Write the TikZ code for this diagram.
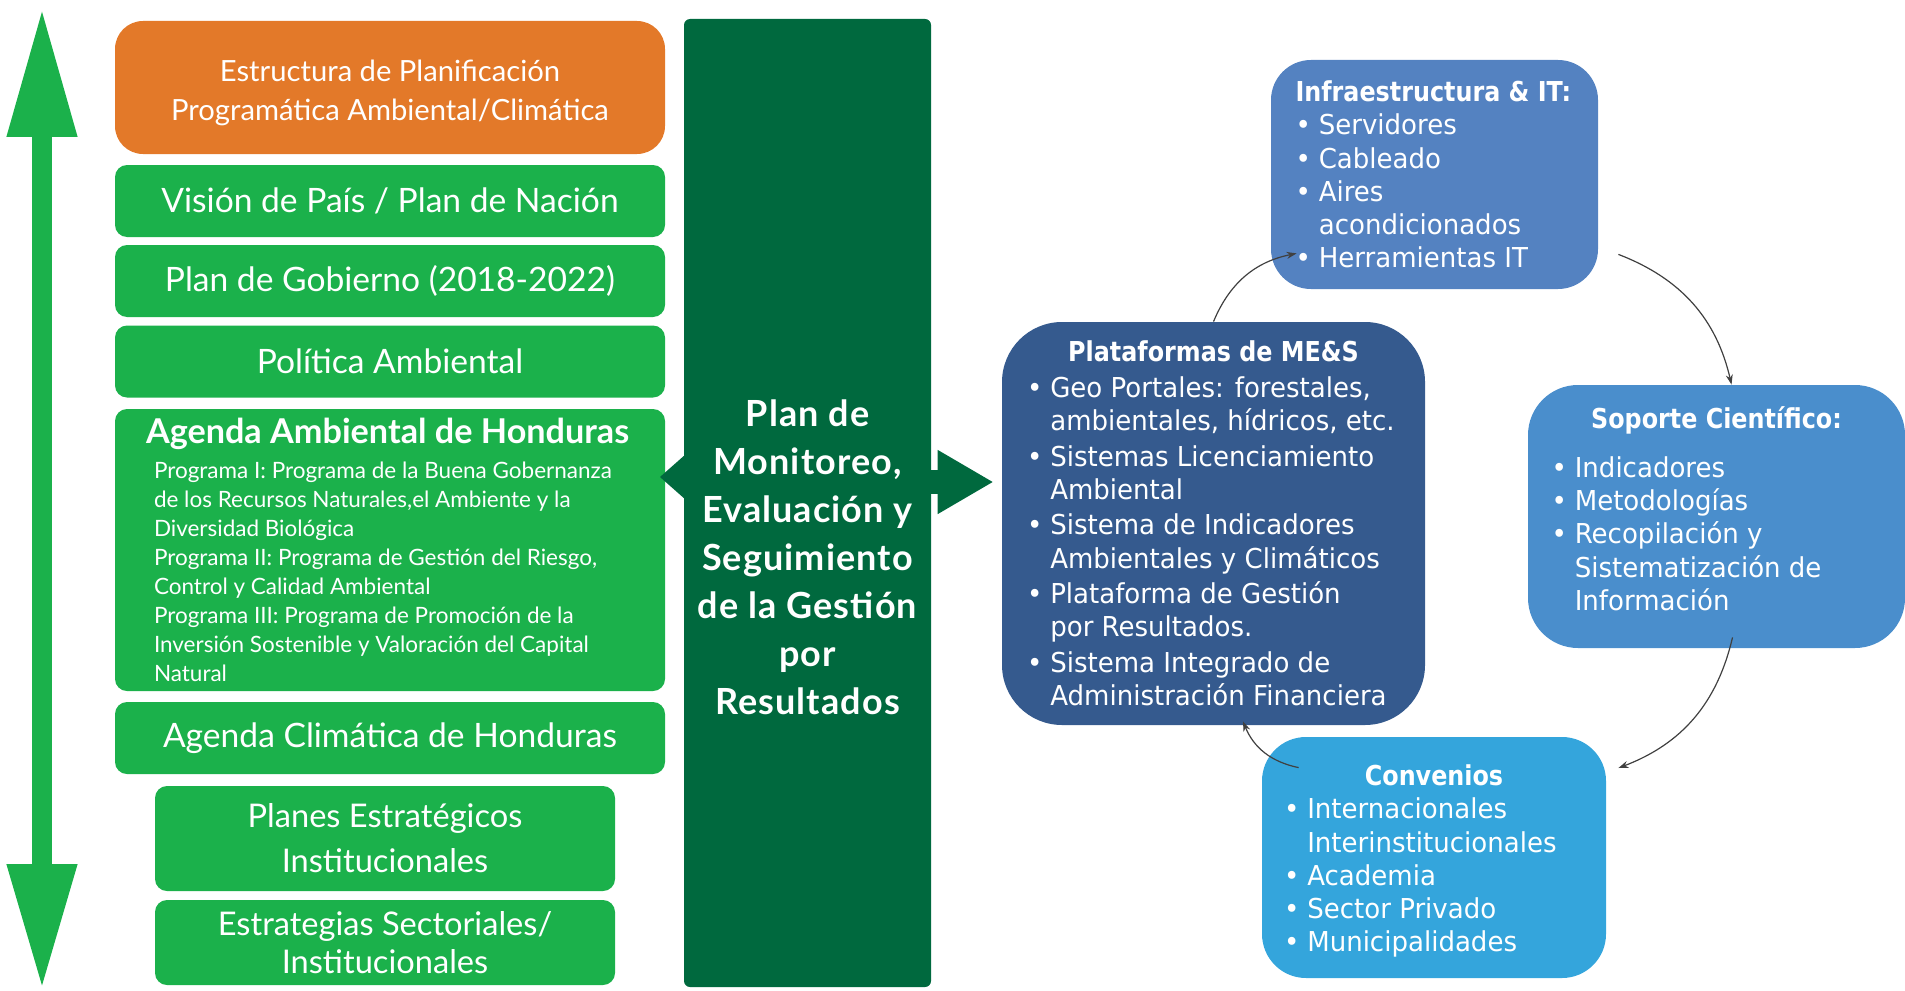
\documentclass[tikz,border=0pt]{standalone}
\usepackage{fontspec}
\setmainfont{Lato}
\newfontfamily\tahoma[FakeStretch=0.95]{DejaVu Sans}
\newfontfamily\tahomabold[FakeStretch=0.87]{DejaVu Sans Bold}
\newfontfamily\planfont[LetterSpace=3]{Lato}
\usetikzlibrary{arrows.meta,positioning,calc}
\definecolor{LeafGreen}{RGB}{27,177,75}
\definecolor{PlanOrange}{RGB}{227,121,41}
\definecolor{DeepGreen}{RGB}{0,105,62}
\definecolor{NavyBlue}{RGB}{53,90,142}
\definecolor{SteelBlue}{RGB}{84,130,193}
\definecolor{MidBlue}{RGB}{74,142,204}
\definecolor{SkyBlue}{RGB}{52,165,220}
\definecolor{LinkGray}{RGB}{64,64,64}
\setlength{\parindent}{0pt}
\newcommand{\bul}{\par\hangindent=0.85em\hangafter=1\noindent\makebox[0.85em][l]{•}}

\begin{document}
\begin{tikzpicture}[x=0.5pt,y=-0.5pt,
  levelbox/.style={fill=LeafGreen, rounded corners=6pt, text=white,
    minimum width=275pt, minimum height=36pt, align=center, inner sep=2pt,
    font=\fontsize{16.8}{21}\selectfont},
  bluebox/.style={text=white, align=flush left, inner sep=0pt,
    font=\tahoma\fontsize{13.7}{16.6}\selectfont},
  linkarrow/.style={draw=LinkGray, line width=0.6pt,
    -{Stealth[length=5pt,width=3.5pt]}}]
\useasboundingbox (0,0) rectangle (1905,990);

% scale arrow on the left
\coordinate (arrowtop) at (42,7);
\coordinate (arrowbottom) at (42,990);
\draw[LeafGreen, line width=10pt,
  {Triangle[length=65pt,width=32.5pt]}-{Triangle[length=63pt,width=32.5pt]}]
  (arrowtop) -- (arrowbottom);

% planning levels
\node[levelbox, fill=PlanOrange, rounded corners=14pt, minimum height=66.5pt,
  font=\fontsize{14.6}{19.5}\selectfont] (estructura) at (390,87.5)
  {\rule{0pt}{16pt}Estructura de Planificación\\ Programática Ambiental/Climática};
\node[levelbox] (vision) at (390,201) {Visión de País / Plan de Nación};
\node[levelbox] (gobierno) at (390,281) {Plan de Gobierno (2018-2022)};
\node[levelbox] (politica) at (390,361.5) {Política Ambiental};
\node[levelbox, minimum height=141pt, text width=236pt, align=flush left] (agenda) at (390,550) {%
  {\bfseries\fontsize{17.1}{20}\selectfont\hspace*{-4pt}\mbox{Agenda Ambiental de Honduras}\par}\vspace{3pt}
  {\fontsize{11.25}{14.5}\selectfont Programa I: Programa de la Buena Gobernanza\\
  de los Recursos Naturales,el Ambiente y la\\
  Diversidad Biológica\\
  Programa II: Programa de Gestión del Riesgo,\\
  Control y Calidad Ambiental\\
  Programa III: Programa de Promoción de la\\
  Inversión Sostenible y Valoración del Capital\\
  Natural\par}};
\node[levelbox] (climatica) at (390,738) {Agenda Climática de Honduras};
\node[levelbox, minimum width=230pt, minimum height=52.5pt,
  font=\fontsize{16.3}{22.5}\selectfont] (planes) at (385,838.5)
  {Planes Estratégicos\\ Institucionales};
\node[levelbox, minimum width=230pt, minimum height=42.5pt,
  font=\fontsize{16.3}{19}\selectfont] (estrategias) at (385,942.5)
  {Estrategias Sectoriales/\\ Institucionales};

% monitoring plan
\node[fill=DeepGreen, rounded corners=3pt, minimum width=123.5pt,
  minimum height=484pt, inner sep=0pt] (plan) at (807.5,503) {};
\fill[DeepGreen] (686,454) -- (660,477) -- (686,500) -- cycle;
\node[text=white, align=center,
  font=\planfont\bfseries\fontsize{18}{24}\selectfont] (plantext) at (807.5,557)
  {Plan de\\ Monitoreo,\\ Evaluación y\\ Seguimiento\\ de la Gestión\\ por\\ Resultados};

% support cycle
\node[bluebox, fill=NavyBlue, rounded corners=30pt, minimum width=211.5pt,
  minimum height=201.5pt, text width=186.5pt,
  execute at begin node={\setlength{\parskip}{1.2pt}}] (plat) at (1213.5,523.5) {%
  {\centering\tahomabold Plataformas de ME\&S\par}
  \bul Geo Portales: forestales,\newline ambientales, hídricos, etc.
  \bul Sistemas Licenciamiento\newline Ambiental
  \bul Sistema de Indicadores\newline Ambientales y Climáticos
  \bul Plataforma de Gestión\newline por Resultados.
  \bul Sistema Integrado de\newline Administración Financiera\par};
\node[bluebox, fill=SteelBlue, rounded corners=20pt, minimum width=163.5pt,
  minimum height=114.5pt, text width=139pt] (infra) at (1434.5,174.5) {%
  {\tahomabold Infraestructura \& IT:\par}
  \bul Servidores
  \bul Cableado
  \bul Aires\newline acondicionados
  \bul Herramientas IT\par};
\node[bluebox, fill=MidBlue, rounded corners=25pt, minimum width=188.5pt,
  minimum height=131.5pt, text width=165pt] (soporte) at (1716.5,516.5) {%
  {\centering\tahomabold Soporte Científico:\par}\vspace{8pt}
  \bul Indicadores
  \bul Metodologías
  \bul Recopilación y\newline Sistematización de\newline Información\par
  \vspace{8pt}};
\node[bluebox, fill=SkyBlue, rounded corners=22pt, minimum width=172pt,
  minimum height=120.5pt, text width=150pt] (convenios) at (1434,857.5) {%
  {\centering\tahomabold Convenios\par}
  \bul Internacionales\newline Interinstitucionales
  \bul Academia
  \bul Sector Privado
  \bul Municipalidades\par
  \vspace{-3.6pt}};

% arrows
\coordinate (axis) at (0,482);
\draw[DeepGreen, line width=12pt, -{Triangle[length=28pt,width=30pt]},
  shorten >=4pt] (plan.east |- axis) -- (plat.west |- axis);
\draw[linkarrow] (plat.north) to[bend left=28]
  ([shift={(13pt,18pt)}]infra.south west);
\draw[linkarrow] ([shift={(10pt,17.5pt)}]infra.south east) to[bend left=28]
  ([xshift=7.5pt]soporte.north);
\draw[linkarrow] ([shift={(8pt,5.5pt)}]soporte.south) to[bend left=28]
  ([shift={(6pt,44.75pt)}]convenios.east);
\draw[linkarrow] ([shift={(18.5pt,-15.5pt)}]convenios.north west) to[bend left=28]
  ([shift={(14.75pt,2pt)}]plat.south);
\end{tikzpicture}
\end{document}
